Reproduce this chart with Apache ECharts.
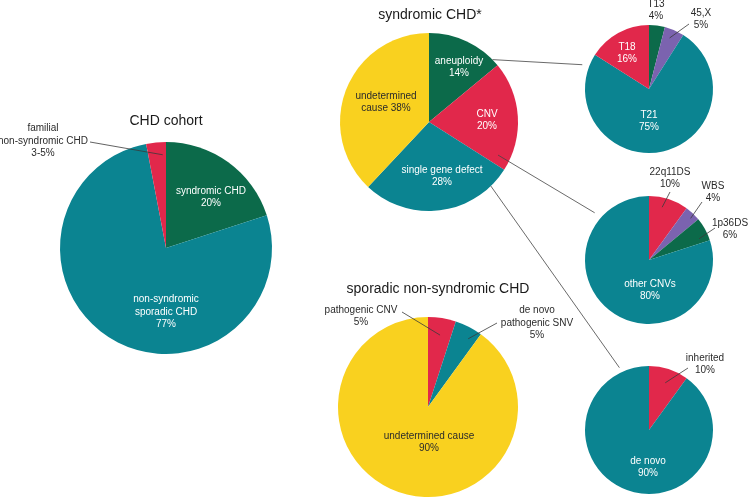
<!DOCTYPE html>
<html>
<head>
<meta charset="utf-8">
<script src="https://cdn.jsdelivr.net/npm/echarts@6/dist/echarts.min.js"></script>
<style>
  html, body { margin: 0; padding: 0; background: #ffffff; }
  #chart { width: 748px; height: 497px; }
</style>
</head>
<body>
<div id="chart"></div>
<script>
// ---------- data ----------
const cohortNames  = ['syndromic CHD', 'non-syndromic sporadic CHD', 'familial non-syndromic CHD'];
const cohortValues = [20, 77, 3];
const cohortLabels = ['syndromic CHD\n20%', 'non-syndromic\nsporadic CHD\n77%', 'familial\nnon-syndromic CHD\n3-5%'];

const syndNames  = ['aneuploidy', 'CNV', 'single gene defect', 'undetermined cause'];
const syndValues = [14, 20, 28, 38];
const syndLabels = ['aneuploidy\n14%', 'CNV\n20%', 'single gene defect\n28%', 'undetermined\ncause 38%'];

const aneuNames  = ['T13', '45,X', 'T21', 'T18'];
const aneuValues = [4, 5, 75, 16];
const aneuLabels = ['T13\n4%', '45,X\n5%', 'T21\n75%', 'T18\n16%'];

const cnvNames  = ['22q11DS', 'WBS', '1p36DS', 'other CNVs'];
const cnvValues = [10, 4, 6, 80];
const cnvLabels = ['22q11DS\n10%', 'WBS\n4%', '1p36DS\n6%', 'other CNVs\n80%'];

const sporNames  = ['pathogenic CNV', 'de novo pathogenic SNV', 'undetermined cause'];
const sporValues = [5, 5, 90];
const sporLabels = ['pathogenic CNV\n5%', 'de novo\npathogenic SNV\n5%', 'undetermined cause\n90%'];

const sgNames  = ['inherited', 'de novo'];
const sgValues = [10, 90];
const sgLabels = ['inherited\n10%', 'de novo\n90%'];

const titles = ['CHD cohort', 'syndromic CHD*', 'sporadic non-syndromic CHD'];

// ---------- style / layout ----------
const C = {
  green: '#0c6a4a',
  teal: '#0b8491',
  red: '#e1284b',
  yellow: '#f9d11f',
  purple: '#7b63af'
};
const FONT = "'Liberation Sans', Arial, Helvetica, sans-serif";
const DARK = '#2b2b2b';

const pies = [
  { names: cohortNames, values: cohortValues, labels: cohortLabels,
    center: [166, 248], r: 106,
    colors: [C.green, C.teal, C.red],
    textColors: ['#fff', '#fff', DARK],
    labelPos: [[211, 197], [166, 312], [43, 141]] },
  { names: syndNames, values: syndValues, labels: syndLabels,
    center: [429, 122], r: 89,
    colors: [C.green, C.red, C.teal, C.yellow],
    textColors: ['#fff', '#fff', '#fff', DARK],
    labelPos: [[459, 67], [487, 120], [442, 176], [386, 102]] },
  { names: aneuNames, values: aneuValues, labels: aneuLabels,
    center: [649, 89], r: 64,
    colors: [C.green, C.purple, C.teal, C.red],
    textColors: [DARK, DARK, '#fff', '#fff'],
    labelPos: [[656, 10], [701, 19], [649, 121], [627, 53]] },
  { names: cnvNames, values: cnvValues, labels: cnvLabels,
    center: [649, 260], r: 64,
    colors: [C.red, C.purple, C.green, C.teal],
    textColors: [DARK, DARK, DARK, '#fff'],
    labelPos: [[670, 178], [713, 192], [730, 229], [650, 290]] },
  { names: sporNames, values: sporValues, labels: sporLabels,
    center: [428, 407], r: 90,
    colors: [C.red, C.teal, C.yellow],
    textColors: [DARK, DARK, DARK],
    labelPos: [[361, 316], [537, 323], [429, 442]] },
  { names: sgNames, values: sgValues, labels: sgLabels,
    center: [649, 430], r: 64,
    colors: [C.red, C.teal],
    textColors: [DARK, '#fff'],
    labelPos: [[705, 364], [648, 467]] }
];

const titlePos = [[166, 121], [430, 15], [438, 289]];

// leader lines: [pieIndex, angle (deg, clockwise from top), radius fraction, label-side end]
const leaders = [
  [0, 358, 0.88, [90, 142]],
  [2, 22, 0.86, [689, 24]],
  [3, 14, 0.85, [670, 192]],
  [3, 45, 0.92, [702, 202]],
  [3, 67, 0.85, [715, 228]],
  [4, 9.5, 0.81, [402, 312]],
  [4, 30.5, 0.88, [497, 323]],
  [5, 19, 0.78, [688, 368]]
];

// connectors between pies: [fromPie, angle, frac, toPie, angle, extra radius]
const connectors = [
  [1, 45.5, 1.0, 2, 290, 7],
  [1, 115.6, 0.86, 3, 311, 8],
  [1, 136, 1.0, 5, 334.6, 5]
];

function polar(center, r, deg) {
  const a = deg * Math.PI / 180;
  return [center[0] + r * Math.sin(a), center[1] - r * Math.cos(a)];
}

const series = pies.map(function (p) {
  return {
    type: 'pie',
    center: p.center,
    radius: p.r,
    startAngle: 90,
    clockwise: true,
    silent: true,
    animation: false,
    avoidLabelOverlap: false,
    z: 2,
    itemStyle: { borderWidth: 0 },
    emphasis: { disabled: true },
    labelLine: { show: false },
    data: p.names.map(function (n, i) {
      return {
        name: n,
        value: p.values[i],
        itemStyle: { color: p.colors[i] },
        label: {
          show: true,
          position: 'inside',
          formatter: p.labels[i],
          color: p.textColors[i],
          fontFamily: FONT,
          fontSize: 10,
          lineHeight: 12.5,
          align: 'center'
        }
      };
    }),
    labelLayout: function (params) {
      const pos = p.labelPos[params.dataIndex];
      return { x: pos[0], y: pos[1], align: 'center', verticalAlign: 'middle' };
    }
  };
});

const graphics = [];
titles.forEach(function (t, i) {
  graphics.push({
    type: 'text', silent: true, z: 100,
    style: {
      text: t, x: titlePos[i][0], y: titlePos[i][1],
      align: 'center', verticalAlign: 'middle',
      font: '14px ' + FONT, fill: '#1a1a1a'
    }
  });
});
leaders.forEach(function (l) {
  const p = pies[l[0]];
  const a = polar(p.center, p.r * l[2], l[1]);
  graphics.push({
    type: 'line', silent: true, z: 100,
    shape: { x1: l[3][0], y1: l[3][1], x2: a[0], y2: a[1] },
    style: { stroke: '#3a3a3a', lineWidth: 0.8 }
  });
});
connectors.forEach(function (c) {
  const p1 = pies[c[0]], p2 = pies[c[3]];
  const a = polar(p1.center, p1.r * c[2], c[1]);
  const b = polar(p2.center, p2.r + c[5], c[4]);
  graphics.push({
    type: 'line', silent: true, z: 100,
    shape: { x1: a[0], y1: a[1], x2: b[0], y2: b[1] },
    style: { stroke: '#444', lineWidth: 0.8 }
  });
});

const chart = echarts.init(document.getElementById('chart'), null, { renderer: 'canvas' });
chart.setOption({
  backgroundColor: '#ffffff',
  animation: false,
  series: series,
  graphic: graphics
});
</script>
</body>
</html>
